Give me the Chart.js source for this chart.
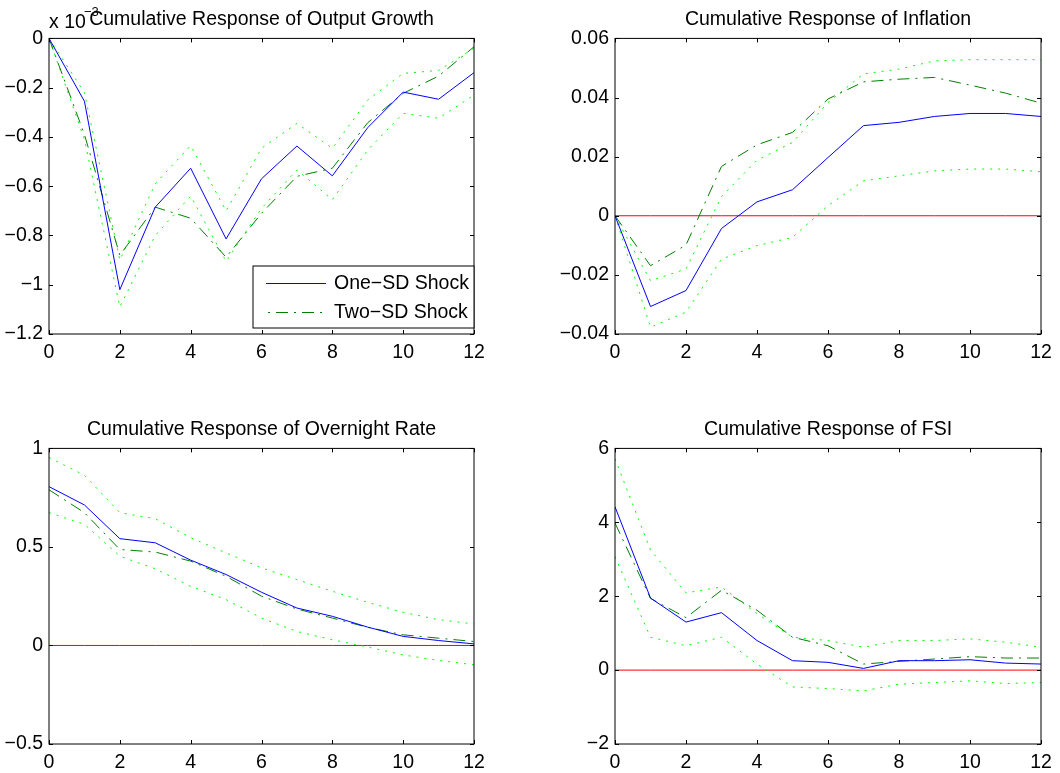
<!DOCTYPE html>
<html>
<head>
<meta charset="utf-8">
<script src="https://cdn.jsdelivr.net/npm/chart.js@4.4.1/dist/chart.umd.min.js"></script>
<style>
  html, body { margin: 0; padding: 0; background: #fff; overflow: hidden; width: 1060px; height: 773px; }
  canvas { position: absolute; }
</style>
</head>
<body>
<canvas id="pOutput" width="530" height="363" style="left:0px;top:0px"></canvas>
<canvas id="pInflation" width="530" height="363" style="left:530px;top:0px"></canvas>
<canvas id="pRate" width="530" height="363" style="left:0px;top:410px"></canvas>
<canvas id="pFsi" width="530" height="363" style="left:530px;top:410px"></canvas>
<script>
// Horizon (periods after the shock)
const horizons = [0, 1, 2, 3, 4, 5, 6, 7, 8, 9, 10, 11, 12];
const zeroLine = [0, 0, 0, 0, 0, 0, 0, 0, 0, 0, 0, 0, 0];

// Output growth (units of 1e-3)
const outputOneSD = [0, -0.255, -1.02, -0.685, -0.527, -0.814, -0.57, -0.437, -0.558, -0.362, -0.218, -0.247, -0.139];
const outputTwoSD = [0, -0.39, -0.88, -0.685, -0.73, -0.888, -0.71, -0.56, -0.527, -0.342, -0.223, -0.153, -0.034];
const outputUpper = [0, -0.22, -0.90, -0.59, -0.435, -0.70, -0.446, -0.345, -0.446, -0.25, -0.142, -0.13, -0.04];
const outputLower = [0, -0.41, -1.09, -0.80, -0.64, -0.905, -0.69, -0.534, -0.655, -0.453, -0.304, -0.324, -0.23];

// Inflation
const inflationOneSD = [0, -0.0307, -0.0253, -0.0043, 0.0047, 0.0088, 0.0197, 0.0305, 0.0316, 0.0336, 0.0346, 0.0346, 0.0336];
const inflationTwoSD = [0, -0.0169, -0.0099, 0.0167, 0.024, 0.0282, 0.0395, 0.0453, 0.0462, 0.0468, 0.0442, 0.0415, 0.0381];
const inflationUpper = [0, -0.022, -0.018, 0.0065, 0.0188, 0.0248, 0.0383, 0.048, 0.0496, 0.0524, 0.0528, 0.0528, 0.0528];
const inflationLower = [0, -0.0377, -0.0326, -0.0147, -0.0101, -0.0073, 0.0034, 0.0118, 0.0135, 0.0152, 0.0158, 0.0158, 0.0149];

// Overnight rate
const rateOneSD = [0.806, 0.713, 0.542, 0.521, 0.433, 0.36, 0.27, 0.19, 0.148, 0.093, 0.046, 0.025, 0.008];
const rateTwoSD = [0.79, 0.674, 0.487, 0.474, 0.428, 0.351, 0.25, 0.185, 0.139, 0.092, 0.054, 0.037, 0.02];
const rateUpper = [0.954, 0.864, 0.674, 0.643, 0.547, 0.47, 0.394, 0.334, 0.275, 0.219, 0.168, 0.131, 0.109];
const rateLower = [0.674, 0.615, 0.453, 0.389, 0.30, 0.233, 0.139, 0.071, 0.029, -0.008, -0.048, -0.076, -0.098];

// Financial stress index
const fsiOneSD = [4.42, 1.95, 1.30, 1.555, 0.80, 0.255, 0.21, 0.045, 0.255, 0.255, 0.28, 0.19, 0.164];
const fsiTwoSD = [3.98, 1.94, 1.42, 2.16, 1.62, 0.89, 0.66, 0.164, 0.236, 0.30, 0.364, 0.327, 0.327];
const fsiUpper = [5.72, 3.25, 2.09, 2.25, 1.53, 0.89, 0.80, 0.62, 0.80, 0.80, 0.845, 0.755, 0.62];
const fsiLower = [3.07, 0.89, 0.66, 0.89, 0.164, -0.455, -0.50, -0.564, -0.38, -0.336, -0.29, -0.364, -0.336];

const seriesLabels = ['One\u2212SD Shock', 'Two\u2212SD Shock'];

const FONT = 'Liberation Sans, Arial, Helvetica, sans-serif';
const FS = 19.5;
const DASHDOT = [12, 6, 2, 6];
const DOTTED = [2, 6];

function pts(ys) { return horizons.map((h, i) => ({ x: h, y: ys[i] })); }
function tickText(v) {
  const s = String(Math.round(v * 10000) / 10000);
  return s.replace('-', '\u2212');
}

// Box around the axes with inward tick marks on all four sides
const axesBox = {
  id: 'axesBox',
  afterDraw(chart) {
    const { ctx, chartArea: a } = chart;
    const xs = chart.scales.x, ys = chart.scales.y;
    ctx.save();
    ctx.strokeStyle = '#000';
    ctx.lineWidth = 1;
    ctx.strokeRect(a.left, a.top, a.right - a.left, a.bottom - a.top);
    const L = 4;
    ctx.beginPath();
    xs.ticks.forEach(t => {
      const px = Math.round(xs.getPixelForValue(t.value)) + 0.5;
      ctx.moveTo(px, a.bottom); ctx.lineTo(px, a.bottom - L);
      ctx.moveTo(px, a.top); ctx.lineTo(px, a.top + L);
    });
    ys.ticks.forEach(t => {
      const py = Math.round(ys.getPixelForValue(t.value)) + 0.5;
      ctx.moveTo(a.left, py); ctx.lineTo(a.left + L, py);
      ctx.moveTo(a.right, py); ctx.lineTo(a.right - L, py);
    });
    ctx.stroke();
    ctx.restore();
  }
};

// Axis multiplier shown above the y axis
const multiplier = {
  id: 'multiplier',
  afterDraw(chart, args, opts) {
    if (!opts.show) return;
    const { ctx, chartArea: a } = chart;
    ctx.save();
    ctx.fillStyle = '#000';
    ctx.textAlign = 'left';
    ctx.textBaseline = 'alphabetic';
    ctx.font = FS + 'px ' + FONT;
    ctx.fillText('x 10', a.left, 28);
    ctx.font = '13px ' + FONT;
    ctx.fillText('\u22123', a.left + 35, 16);
    ctx.restore();
  }
};

// Legend box in the lower right corner of the axes
const cornerLegend = {
  id: 'cornerLegend',
  afterDraw(chart, args, opts) {
    if (!opts.show) return;
    const { ctx, chartArea: a } = chart;
    const w = 221, h = 62;
    const x0 = a.right - w, y0 = a.bottom - 6 - h;
    ctx.save();
    ctx.fillStyle = '#fff';
    ctx.fillRect(x0, y0, w, h);
    ctx.strokeStyle = '#000';
    ctx.lineWidth = 1;
    ctx.strokeRect(x0, y0, w, h);
    [0, 1].forEach(i => {
      const ds = chart.data.datasets[i];
      const yy = y0 + 17 + i * 29;
      ctx.beginPath();
      ctx.strokeStyle = ds.borderColor;
      ctx.lineWidth = ds.borderWidth;
      ctx.setLineDash(ds.borderDash || []);
      ctx.lineDashOffset = i === 1 ? 16 : 0;
      ctx.moveTo(x0 + 13, yy + 0.5);
      ctx.lineTo(x0 + 73, yy + 0.5);
      ctx.stroke();
      ctx.setLineDash([]);
      ctx.fillStyle = '#000';
      ctx.font = FS + 'px ' + FONT;
      ctx.textAlign = 'left';
      ctx.textBaseline = 'middle';
      ctx.fillText(ds.label, x0 + 81, yy + 1);
    });
    ctx.restore();
  }
};

function makePanel(id, title, one, two, upper, lower, yMin, yMax, yStep, opts) {
  const datasets = [
    { label: seriesLabels[0], data: pts(one), borderColor: '#0000ff', borderWidth: 1 },
    { label: seriesLabels[1], data: pts(two), borderColor: '#008000', borderWidth: 1, borderDash: DASHDOT },
    { label: 'upper', data: pts(upper), borderColor: '#00ff00', borderWidth: 1, borderDash: DOTTED },
    { label: 'lower', data: pts(lower), borderColor: '#00ff00', borderWidth: 1, borderDash: DOTTED }
  ];
  if (opts.zero) {
    datasets.push({ label: 'zero', data: pts(zeroLine), borderColor: '#ff0000', borderWidth: 1 });
  }
  datasets.forEach(d => { d.pointRadius = 0; d.tension = 0; d.fill = false; });

  new Chart(document.getElementById(id), {
    type: 'line',
    data: { datasets },
    plugins: [axesBox, multiplier, cornerLegend],
    options: {
      responsive: false,
      animation: false,
      devicePixelRatio: 1,
      layout: { padding: { left: 0, right: opts.padRight, top: 0, bottom: 0 } },
      plugins: {
        legend: { display: false },
        tooltip: { enabled: false },
        title: {
          display: true, text: title, fullSize: false, color: '#000',
          font: { family: FONT, size: FS, weight: 'normal', lineHeight: 1.2 },
          padding: { top: 8, bottom: 7 }
        },
        multiplier: { show: !!opts.multiplier },
        cornerLegend: { show: !!opts.legend }
      },
      scales: {
        x: {
          type: 'linear', min: 0, max: 12,
          grid: { display: false, drawTicks: false },
          border: { display: false },
          ticks: { stepSize: 2, color: '#000', padding: 7, maxRotation: 0,
                   font: { family: FONT, size: FS }, callback: v => tickText(v) },
          afterFit(s) { s.height = 29; s.paddingLeft = 0; s.paddingRight = 0; }
        },
        y: {
          type: 'linear', min: yMin, max: yMax,
          grid: { display: false, drawTicks: false },
          border: { display: false },
          ticks: { stepSize: yStep, color: '#000', padding: 6,
                   font: { family: FONT, size: FS }, callback: v => tickText(v) },
          afterFit(s) { s.width = opts.yWidth; s.paddingTop = 0; s.paddingBottom = 0; }
        }
      }
    }
  });
}

makePanel('pOutput', 'Cumulative Response of Output Growth',
  outputOneSD, outputTwoSD, outputUpper, outputLower, -1.2, 0, 0.2,
  { yWidth: 49, padRight: 56, multiplier: true, legend: true, zero: false });
makePanel('pInflation', 'Cumulative Response of Inflation',
  inflationOneSD, inflationTwoSD, inflationUpper, inflationLower, -0.04, 0.06, 0.02,
  { yWidth: 85, padRight: 19, zero: true });
makePanel('pRate', 'Cumulative Response of Overnight Rate',
  rateOneSD, rateTwoSD, rateUpper, rateLower, -0.5, 1, 0.5,
  { yWidth: 49, padRight: 56, zero: true });
makePanel('pFsi', 'Cumulative Response of FSI',
  fsiOneSD, fsiTwoSD, fsiUpper, fsiLower, -2, 6, 2,
  { yWidth: 85, padRight: 19, zero: true });
</script>
</body>
</html>
